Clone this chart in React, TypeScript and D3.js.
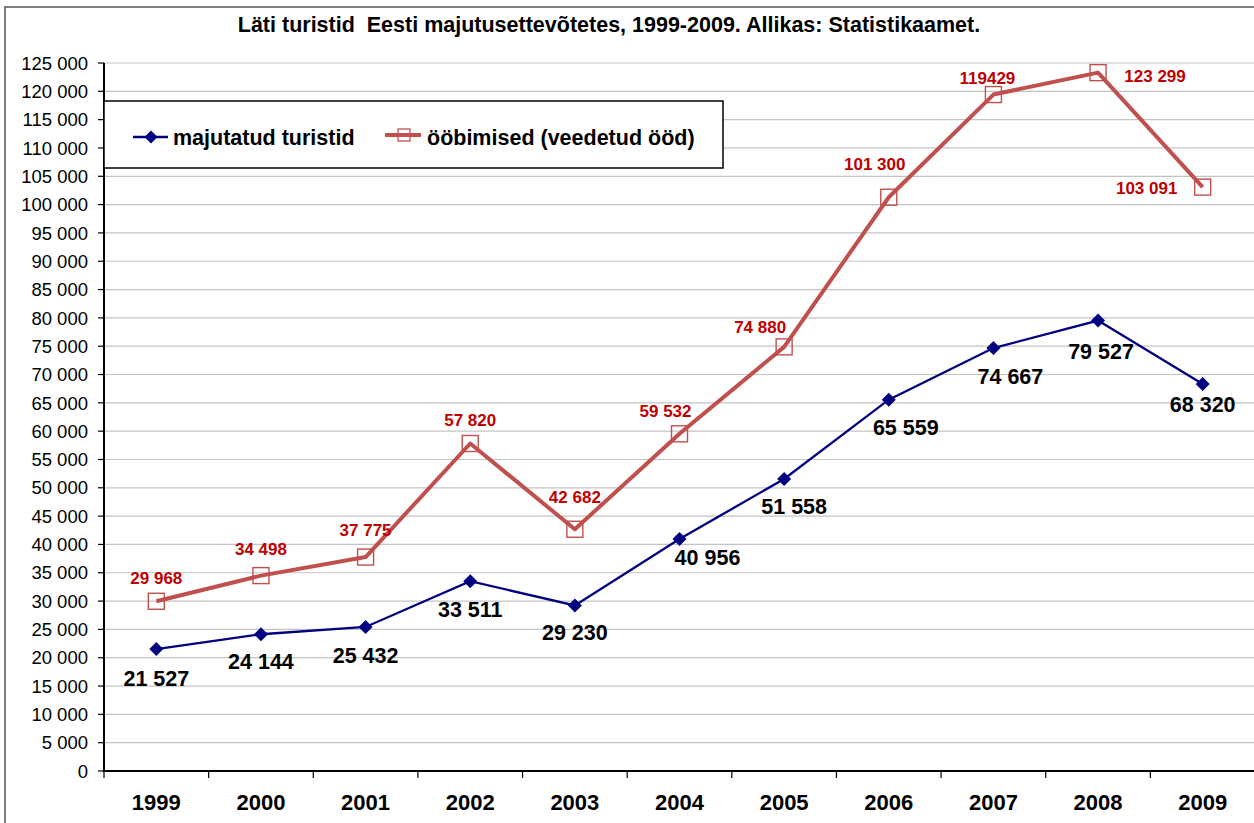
import React from "react";
import * as d3 from "d3";

const years = ["1999","2000","2001","2002","2003","2004","2005","2006","2007","2008","2009"];
const majutatud = [21527, 24144, 25432, 33511, 29230, 40956, 51558, 65559, 74667, 79527, 68320];
const oobimised = [29968, 34498, 37775, 57820, 42682, 59532, 74880, 101300, 119429, 123299, 103091];
const yTicks = d3.range(0, 125001, 5000);
const seriesNames = ["majutatud turistid", "ööbimised (veedetud ööd)"];
const title = "Läti turistid  Eesti majutusettevõtetes, 1999-2009. Allikas: Statistikaamet.";

// label placement offsets (style)
const blueOff: [number, number][] = [[0,29],[0,27],[0,28],[0,28],[0,27],[28,18],[10,27],[17,28],[17,28],[3,31],[0,20]];
const redOff: [number, number][] = [[0,-23],[0,-27],[0,-27],[0,-24],[0,-32],[-14,-23],[-24,-20],[-14,-33],[-6,-17],[57,3],[-56,1]];

const W = 1254, H = 823;
const L = 104, R = 1255, T = 63, B = 771;
const FONT = "'Liberation Sans', Arial, sans-serif";
const BLUE = "#000080";
const RED = "#C0504D";
const LABRED = "#C00000";

function fmt(v: number) {
  const s = String(v);
  if (v === 119429) return s;
  return s.length > 3 ? s.slice(0, s.length - 3) + " " + s.slice(-3) : s;
}

const diamondPath = (s: number) => `M0,${-s}L${s},0L0,${s}L${-s},0Z`;

export default function App() {
  const x = d3.scaleBand().domain(years).range([L, R]).padding(0);
  const y = d3.scaleLinear().domain([0, 125000]).range([B, T]);
  const cx = (i: number) => (x(years[i]) as number) + x.bandwidth() / 2;
  const line = d3.line<number>().x((_, i) => cx(i)).y((d) => y(d));

  return (
    <svg width={W} height={H} style={{ position: "absolute", left: 0, top: 0, background: "#fff" }}>
      <rect x={5} y={7} width={1300} height={900} fill="#fff" stroke="#555" strokeWidth={1.5} />
      <text x={609} y={32} textAnchor="middle" fontFamily={FONT} fontWeight="bold" fontSize={21.5}
        style={{ whiteSpace: "pre" }}>{title}</text>
      {/* gridlines */}
      {yTicks.map((t) => (
        <line key={"g" + t} x1={L} x2={R} y1={y(t)} y2={y(t)} stroke="#c4c4c4" strokeWidth={1.2} />
      ))}
      {/* y axis */}
      {yTicks.map((t) => (
        <g key={"t" + t}>
          <line x1={L - 6} x2={L} y1={y(t)} y2={y(t)} stroke="#000" strokeWidth={1.2} />
          <text x={L - 16} y={y(t)} dy="0.36em" textAnchor="end" fontFamily={FONT} fontSize={18.5} fill="#000">{fmt(t)}</text>
        </g>
      ))}
      <line x1={L} x2={L} y1={T} y2={B + 1} stroke="#000" strokeWidth={2} />
      {/* x axis */}
      <line x1={L - 1} x2={R} y1={B} y2={B} stroke="#000" strokeWidth={2} />
      {years.map((yr, i) => (
        <g key={yr}>
          <line x1={x(yr) as number} x2={x(yr) as number} y1={B} y2={B + 7} stroke="#000" strokeWidth={1.2} />
          <text x={cx(i)} y={810} textAnchor="middle" fontFamily={FONT} fontWeight="bold" fontSize={22}>{yr}</text>
        </g>
      ))}
      {/* legend */}
      <rect x={L} y={101} width={619} height={67} fill="#fff" stroke="#000" strokeWidth={1.5} />
      <line x1={133} x2={168} y1={137} y2={137} stroke={BLUE} strokeWidth={2.5} />
      <path d={diamondPath(6.5)} transform="translate(151,137)" fill={BLUE} />
      <text x={173} y={144.5} fontFamily={FONT} fontWeight="bold" fontSize={21.5}>{seriesNames[0]}</text>
      <line x1={385} x2={421} y1={135} y2={135} stroke={RED} strokeWidth={4} />
      <rect x={398} y={129} width={12} height={12} fill="none" stroke={RED} strokeWidth={1.3} />
      <text x={427} y={144.5} fontFamily={FONT} fontWeight="bold" fontSize={21.5}>{seriesNames[1]}</text>
      {/* red series */}
      <path d={line(oobimised) as string} fill="none" stroke={RED} strokeWidth={4} strokeLinejoin="round" />
      {oobimised.map((v, i) => (
        <rect key={"rs" + i} x={cx(i) - 8} y={y(v) - 8} width={16} height={16} fill="none" stroke={RED} strokeWidth={1.4} />
      ))}
      {/* blue series */}
      <path d={line(majutatud) as string} fill="none" stroke={BLUE} strokeWidth={2.3} />
      {majutatud.map((v, i) => (
        <path key={"bd" + i} d={diamondPath(7)} transform={`translate(${cx(i)},${y(v)})`} fill={BLUE} />
      ))}
      {/* labels */}
      {oobimised.map((v, i) => (
        <text key={"rl" + i} x={cx(i) + redOff[i][0]} y={y(v) + redOff[i][1]} dy="0.36em" textAnchor="middle"
          fontFamily={FONT} fontWeight="bold" fontSize={17} fill={LABRED}>{fmt(v)}</text>
      ))}
      {majutatud.map((v, i) => (
        <text key={"bl" + i} x={cx(i) + blueOff[i][0]} y={y(v) + blueOff[i][1]} dy="0.36em" textAnchor="middle"
          fontFamily={FONT} fontWeight="bold" fontSize={21.5} fill="#000">{fmt(v)}</text>
      ))}
    </svg>
  );
}
